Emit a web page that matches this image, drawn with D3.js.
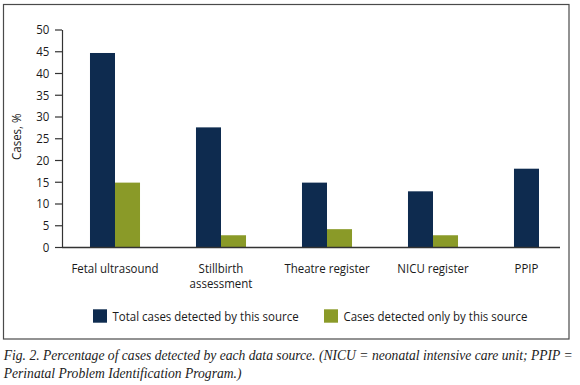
<!DOCTYPE html>
<html><head><meta charset="utf-8">
<script src="https://cdn.jsdelivr.net/npm/d3@7"></script>
<style>body{margin:0;background:#fff}svg{display:block}</style>
</head><body>
<script>
const categories = ["Fetal ultrasound", "Stillbirth\nassessment", "Theatre register", "NICU register", "PPIP"];
const seriesNames = ["Total cases detected by this source", "Cases detected only by this source"];
const totalCases = [44.6, 27.5, 14.8, 12.8, 18.0];
const onlyCases = [14.8, 2.7, 4.1, 2.7, 0];
const yTicks = [0, 5, 10, 15, 20, 25, 30, 35, 40, 45, 50];
const yLabel = "Cases, %";
const caption = ["Fig. 2. Percentage of cases detected by each data source. (NICU = neonatal intensive care unit; PPIP =",
                 "Perinatal Problem Identification Program.)"];
const colors = ["#0e2b4f", "#8a9a28"];

const W = 580, H = 385;
const sans = "'Open Sans', 'Noto Sans', sans-serif";
const K = 0.85; // horizontal condensing of the sans text
const FS = 13.5;

const svg = d3.select("body").append("svg").attr("width", W).attr("height", H);

function condense(sel, k) {
  sel.each(function () {
    const w = this.getComputedTextLength();
    this.setAttribute("textLength", w * k);
    this.setAttribute("lengthAdjust", "spacingAndGlyphs");
  });
}

// frame
svg.append("rect").attr("x", 3.5).attr("y", 4.5).attr("width", 565.5).attr("height", 334.5)
  .attr("fill", "none").attr("stroke", "#4a4a4a").attr("stroke-width", 1.2);

const x = d3.scaleBand().domain(categories).range([62, 592]).paddingInner(0.528).paddingOuter(0.264);
const x1 = d3.scaleBand().domain([0, 1]).range([0, x.bandwidth()]);
const y = d3.scaleLinear().domain([0, 50]).range([247, 29.5]);

const series = [totalCases, onlyCases];

// bars
series.forEach((vals, si) => {
  svg.append("g").selectAll("rect").data(categories).join("rect")
    .attr("x", c => x(c) + x1(si))
    .attr("y", (c, i) => y(vals[i]))
    .attr("width", x1.bandwidth())
    .attr("height", (c, i) => y(0) - y(vals[i]))
    .attr("fill", colors[si]);
});

// y axis
const yAxis = svg.append("g").attr("transform", "translate(62,0)")
  .call(d3.axisLeft(y).tickValues(yTicks).tickSize(7).tickSizeOuter(0).tickPadding(5.7));
yAxis.select(".domain").attr("stroke", "#333").attr("stroke-width", 1.2);
yAxis.selectAll(".tick line").attr("stroke", "#333").attr("stroke-width", 1.2);
yAxis.selectAll(".tick text").attr("font-family", sans).attr("font-size", FS).attr("fill", "#1a1a1a");
condense(yAxis.selectAll(".tick text"), K);

// baseline
svg.append("line").attr("x1", 62).attr("x2", 560).attr("y1", y(0) + 0.5).attr("y2", y(0) + 0.5)
  .attr("stroke", "#333").attr("stroke-width", 1.3);

// y label
const yl = svg.append("text").attr("transform", "translate(20.7,136.7) rotate(-90)")
  .attr("text-anchor", "middle").attr("font-family", sans).attr("font-size", FS).attr("fill", "#1a1a1a")
  .text(yLabel);
condense(yl, K);

// category labels (multi-line labels as one text with tspans, condensed by a horizontal scale)
const catG = svg.append("g");
categories.forEach((c, i) => {
  const present = series.map((s, si) => si).filter(si => series[si][i] > 0);
  const cx = x(c) + d3.mean(present, si => x1(si) + x1.bandwidth() / 2);
  const t = catG.append("text")
    .attr("transform", `translate(${cx},273.3) scale(${K},1)`)
    .attr("text-anchor", "middle").attr("font-family", sans).attr("font-size", FS).attr("fill", "#1a1a1a");
  c.split("\n").forEach((line, li) => {
    t.append("tspan").attr("x", 0).attr("y", li * 15).text(line);
  });
});

// legend
const legX = [93, 324];
seriesNames.forEach((n, i) => {
  svg.append("rect").attr("x", legX[i]).attr("y", 309.3).attr("width", 14).attr("height", 13.4).attr("fill", colors[i]);
  const t = svg.append("text").attr("x", legX[i] + 19.5).attr("y", 320.7)
    .attr("font-family", sans).attr("font-size", FS).attr("fill", "#1a1a1a").text(n);
  condense(t, K);
});

// caption
const capG = svg.append("g");
caption.forEach((line, i) => {
  capG.append("text").attr("x", 3.7).attr("y", 360 + i * 17.8)
    .attr("font-family", "'Liberation Serif', 'DejaVu Serif', serif").attr("font-style", "italic")
    .attr("font-size", 13.6).attr("fill", "#222").text(line);
});
const first = capG.select("text").node();
const kc = 569 / first.getComputedTextLength();
condense(capG.selectAll("text"), kc);
</script>
</body></html>
